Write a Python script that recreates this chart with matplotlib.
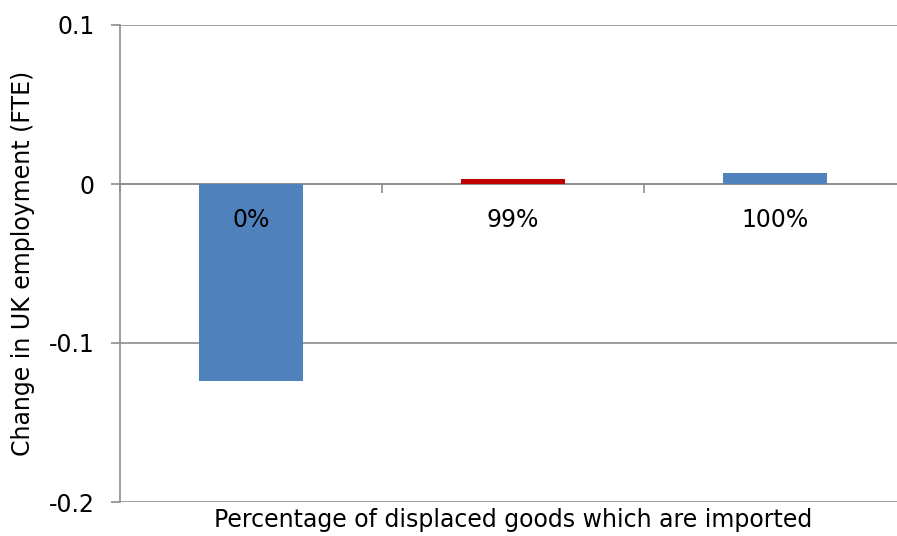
import matplotlib
matplotlib.use("Agg")
import matplotlib.pyplot as plt
from matplotlib.ticker import FixedLocator, NullFormatter
from matplotlib.transforms import offset_copy

plt.rcParams['font.family'] = ['DejaVu Sans Condensed', 'DejaVu Sans']

categories = ["0%", "99%", "100%"]
values = [-0.124, 0.003, 0.007]
bar_colors = ["#4F81BD", "#C00000", "#4F81BD"]
y_ticks = [-0.2, -0.1, 0, 0.1]
y_tick_labels = ["-0.2", "-0.1", "0", "0.1"]

W, H = 897, 536
fig = plt.figure(figsize=(W / 100, H / 100), dpi=100)
left, right, top, bottom = 120, 906, 25, 502
ax = fig.add_axes([left / W, 1 - bottom / H, (right - left) / W, (bottom - top) / H])

FS = 17
grid_c = "#8C8C8C"
x = list(range(len(categories)))
ax.bar(x, values, width=0.4, color=bar_colors, zorder=3)

ax.set_xlim(-0.5, len(categories) - 0.5)
ax.set_ylim(-0.2, 0.1)
ax.set_yticks(y_ticks)
ax.set_yticklabels(y_tick_labels, fontsize=FS)
ax.yaxis.grid(True, color=grid_c, linewidth=1.2, zorder=0)

for s in ["top", "right"]:
    ax.spines[s].set_visible(False)
ax.spines["left"].set_color(grid_c)
ax.spines["left"].set_linewidth(1.2)
ax.spines["bottom"].set_position(("data", 0))
ax.spines["bottom"].set_color(grid_c)
ax.spines["bottom"].set_linewidth(1.2)
ax.spines["bottom"].set_zorder(2.5)

ax.tick_params(axis="y", direction="out", length=6.5, width=1.2, color=grid_c, pad=12)

# tick marks sit on the category boundaries
ax.xaxis.set_major_locator(FixedLocator([-0.5 + i for i in range(len(categories))]))
ax.xaxis.set_major_formatter(NullFormatter())
ax.tick_params(axis="x", which="major", direction="out", length=6.5, width=1.2, color=grid_c)

# category names just below the zero line, drawn over the bars
label_tf = offset_copy(ax.transData, fig=fig, x=0, y=-36, units="dots")
for xi, name in zip(x, categories):
    ax.text(xi, 0, name, transform=label_tf, ha="center", va="center",
            fontsize=FS, zorder=6)

ax.set_ylabel("Change in UK employment (FTE)", fontsize=FS, labelpad=10)
fig.text((left + right) / 2 / W, 1 - 520 / H, "Percentage of displaced goods which are imported",
         ha="center", va="center", fontsize=FS)

fig.savefig("out.png", dpi=100)
